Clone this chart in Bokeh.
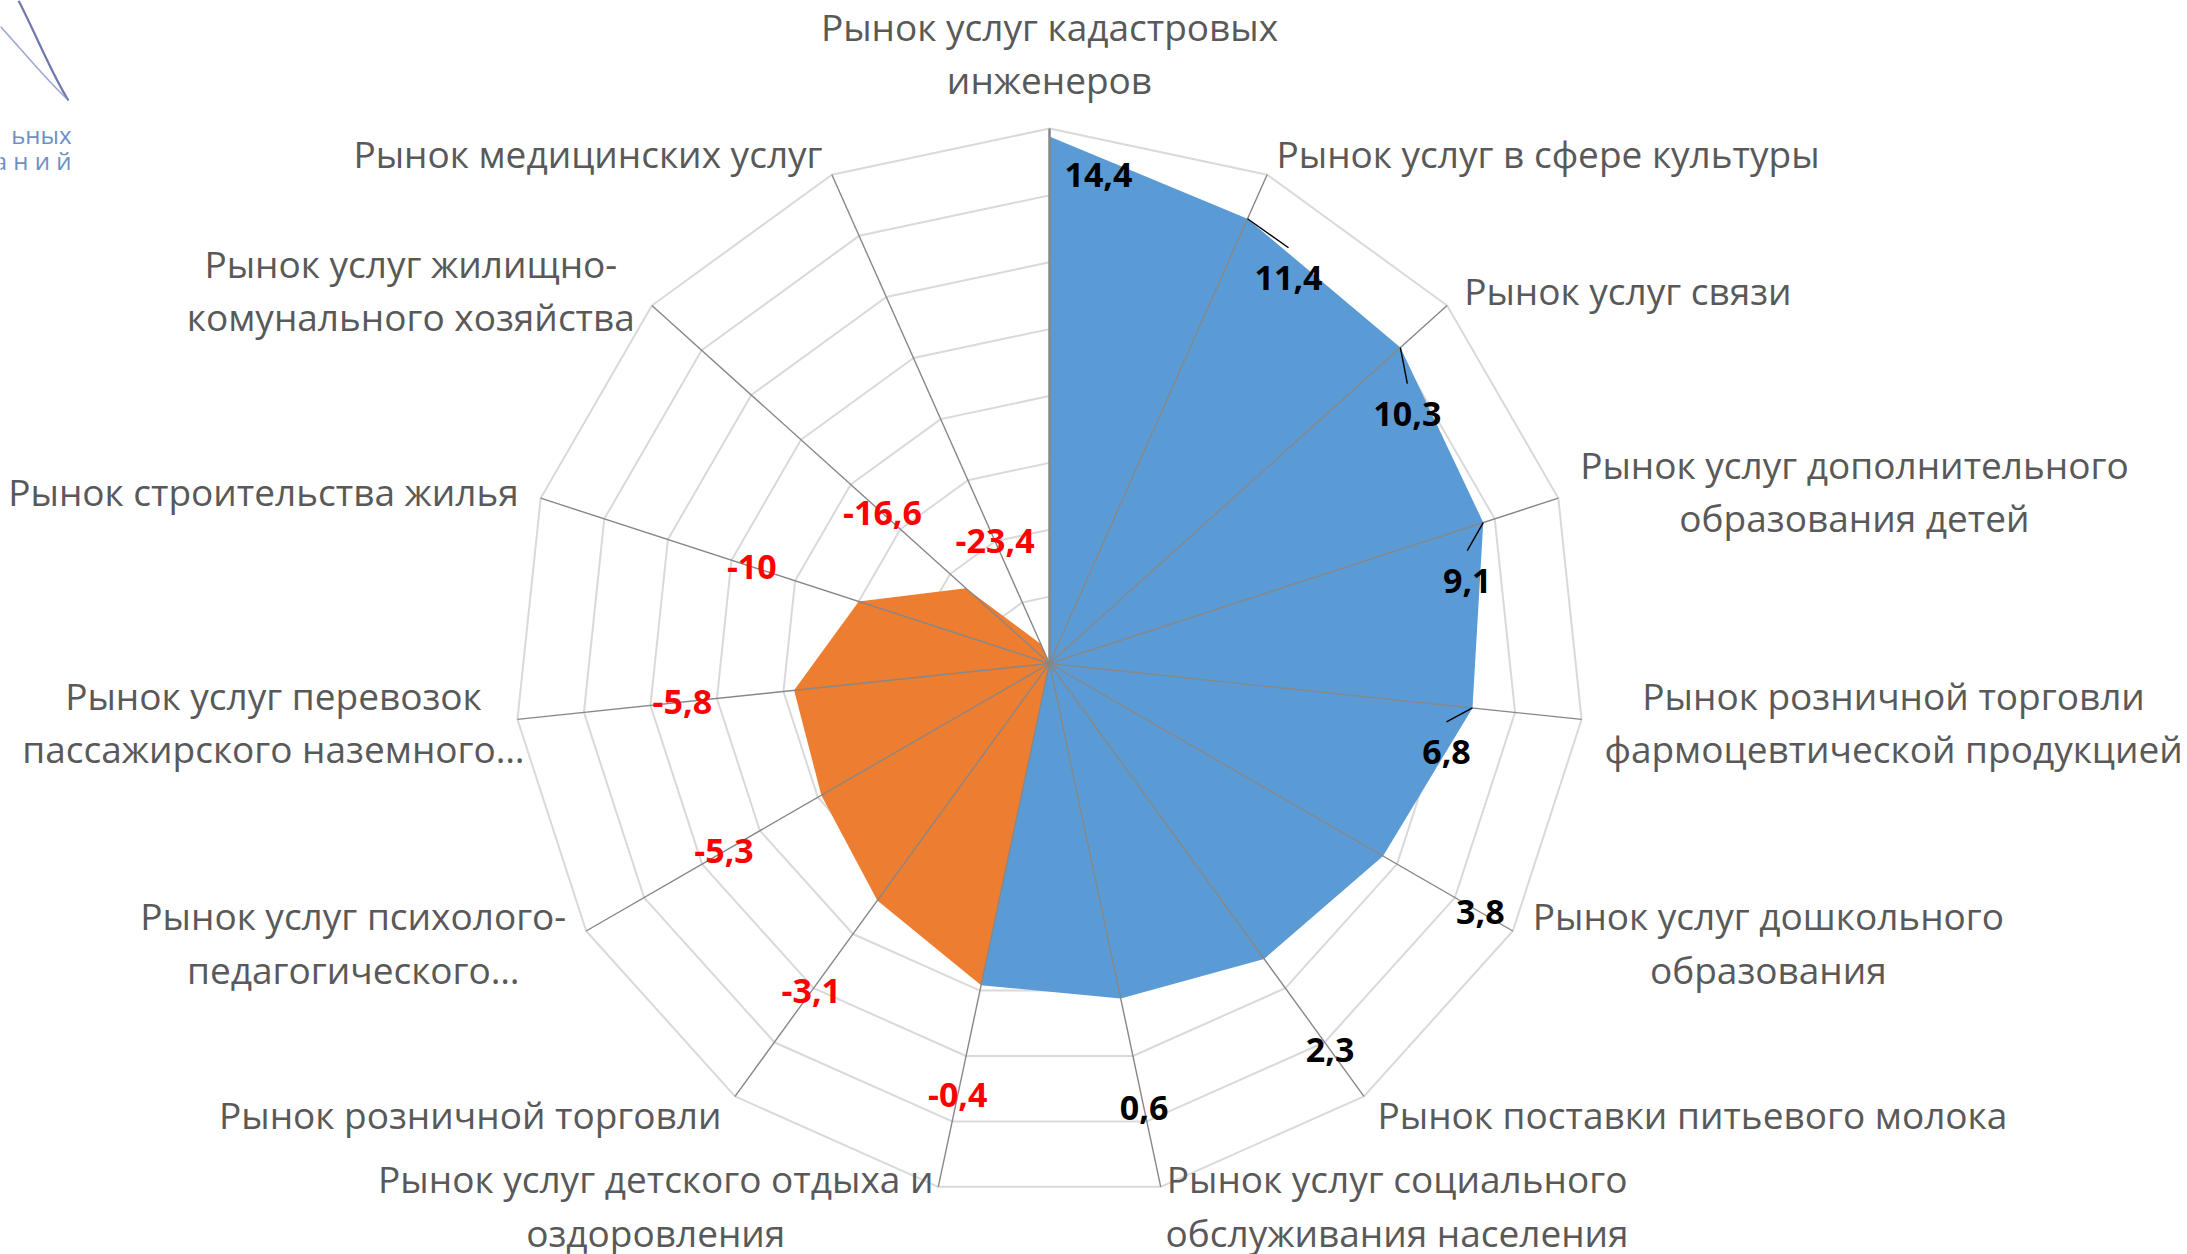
import numpy as np
from bokeh.plotting import figure
from bokeh.models import Range1d
from bokeh.embed import file_html
from bokeh.resources import INLINE
from bokeh.core.properties import value

# ---------------- data ----------------
categories = [
    "Рынок услуг кадастровых\nинженеров",
    "Рынок услуг в сфере культуры",
    "Рынок услуг связи",
    "Рынок услуг дополнительного\nобразования детей",
    "Рынок розничной торговли\nфармоцевтической продукцией",
    "Рынок услуг дошкольного\nобразования",
    "Рынок поставки питьевого молока",
    "Рынок услуг социального\nобслуживания населения",
    "Рынок услуг детского отдыха и\nоздоровления",
    "Рынок розничной торговли",
    "Рынок услуг психолого-\nпедагогического…",
    "Рынок услуг перевозок\nпассажирского наземного…",
    "Рынок строительства жилья",
    "Рынок услуг жилищно-\nкомунального хозяйства",
    "Рынок медицинских услуг",
]
values = [14.4, 11.4, 10.3, 9.1, 6.8, 3.8, 2.3, 0.6, -0.4, -3.1, -5.3, -5.8, -10, -16.6, -23.4]
positive_series = [14.4, 11.4, 10.3, 9.1, 6.8, 3.8, 2.3, 0.6, -0.4, None, None, None, None, None, None]
negative_series = [None, None, None, None, None, None, None, None, -0.4, -3.1, -5.3, -5.8, -10, -16.6, -23.4]
axis_min, axis_max, axis_step = -25, 15, 5

# ---------------- styles ----------------
BLUE = "#5b9bd5"
ORANGE = "#ed7d31"
RING = "#d9d9d9"
SPOKE = "#878787"
CAT_COLOR = "#595959"
FONT = "Open Sans"
# labels moved inside the blue area (screen px nudges from the point, y down)
inside_nudge = [(49, 38), (41, 59), (7, 66), (-16, 58), (-26, 44)] + [None] * 10
leader = [False, True, True, True, True] + [False] * 10
outside_gap = 8.4   # value units beyond the point for radial labels
# extra screen px nudges for category labels (x right, y down)
cat_nudge = [(0, 0)] * 7 + [(0, -4), (0, -4)] + [(0, 0)] * 2 + [(30, 0)] + [(0, 0)] * 3

# ---------------- geometry ----------------
W, H = 2187, 1254
CX, CY = 1049, 663
R = 535
span = axis_max - axis_min
k = R / span  # px per value unit
N = len(categories)
theta = np.arange(N) * 2 * np.pi / N
dx, dy = np.sin(theta), np.cos(theta)


def rho(v):
    return (axis_min if v is None else v) - axis_min


p = figure(width=W, height=H, output_backend="svg", toolbar_location=None,
           x_range=Range1d(-CX / k, (W - CX) / k), y_range=Range1d(-(H - CY) / k, CY / k),
           min_border=0, outline_line_color=None, background_fill_color="white",
           border_fill_color="white")
p.axis.visible = False
p.grid.visible = False

# rings
ring_xs, ring_ys = [], []
for lv in np.arange(axis_min + axis_step, axis_max + 0.001, axis_step):
    r = lv - axis_min
    ring_xs.append(list(r * dx) + [r * dx[0]])
    ring_ys.append(list(r * dy) + [r * dy[0]])
p.multi_line(ring_xs, ring_ys, line_color=RING, line_width=2)

# series areas
for series, col in ((positive_series, BLUE), (negative_series, ORANGE)):
    rr = np.array([rho(v) for v in series])
    p.patch(list(rr * dx), list(rr * dy), fill_color=col, line_color=None)

# spokes
p.segment(x0=[0] * N, y0=[0] * N, x1=list(span * dx), y1=list(span * dy),
          line_color=SPOKE, line_width=[2.5] + [1.4] * (N - 1))

# data labels
lab_x, lab_y, lab_t, lab_c = [], [], [], []
lead_x, lead_y = [], []
for i, v in enumerate(values):
    vx, vy = rho(v) * dx[i], rho(v) * dy[i]
    if inside_nudge[i] is not None:
        nx, ny = inside_nudge[i]
        lx, ly = vx + nx / k, vy - ny / k
        if leader[i]:
            lead_x.append([vx, lx])
            lead_y.append([vy, ly + 30 / k])
    else:
        rr = rho(v) + outside_gap
        lx, ly = rr * dx[i], rr * dy[i]
    lab_x.append(lx)
    lab_y.append(ly)
    lab_t.append(("%g" % v).replace(".", ","))
    lab_c.append("#ff0000" if v < 0 else "#000000")

p.multi_line(lead_x, lead_y, line_color="black", line_width=1.4)
p.text(lab_x, lab_y, text=lab_t, text_color=lab_c, text_font=value(FONT),
       text_font_style="bold", text_font_size="34px", text_align="center",
       text_baseline="middle")

# category labels
groups = {"center_left": ([], [], []), "center_right": ([], [], []), "bottom_center": ([], [], [])}
gap = 23 / k
for i, c in enumerate(categories):
    ax = (span + gap) * dx[i] + cat_nudge[i][0] / k
    ay = (span + gap) * dy[i] - cat_nudge[i][1] / k
    if dx[i] > 0.01:
        key = "center_left"
    elif dx[i] < -0.01:
        key = "center_right"
    else:
        key = "bottom_center"
    g = groups[key]
    g[0].append(ax)
    g[1].append(ay)
    g[2].append(c)
for key, (gx, gy, gt) in groups.items():
    if gx:
        p.text(gx, gy, text=gt, anchor=value(key), text_align="center",
               text_baseline="middle", text_font=value(FONT), text_font_size="37px",
               text_color=CAT_COLOR, text_line_height=1.05)


# decorative logo fragment (top-left corner of the source slide)
def px2d(xp, yp):
    return ((xp - CX) / k, (CY - yp) / k)


a0, a1, a2, a3 = px2d(18, 0), px2d(36, 35), px2d(52, 75), px2d(68, 100)
b0, b1, b2, b3 = px2d(0, 26), px2d(22, 50), px2d(42, 75), px2d(66, 98)
p.bezier(x0=[a0[0], b0[0]], y0=[a0[1], b0[1]], x1=[a3[0], b3[0]], y1=[a3[1], b3[1]],
         cx0=[a1[0], b1[0]], cy0=[a1[1], b1[1]], cx1=[a2[0], b2[0]], cy1=[a2[1], b2[1]],
         line_color=["#4b5597", "#8a93c4"], line_width=[2.2, 1.6], line_alpha=0.8)
t1, t2 = px2d(71, 134), px2d(71, 160)
p.text([t1[0], t2[0]], [t1[1], t2[1]], text=["ьных", "а н и й"], text_align="right",
       text_baseline="middle", text_font=value(FONT), text_font_size="24px",
       text_color="#6f8fc4")

open("out.html", "w").write(file_html(p, INLINE))
